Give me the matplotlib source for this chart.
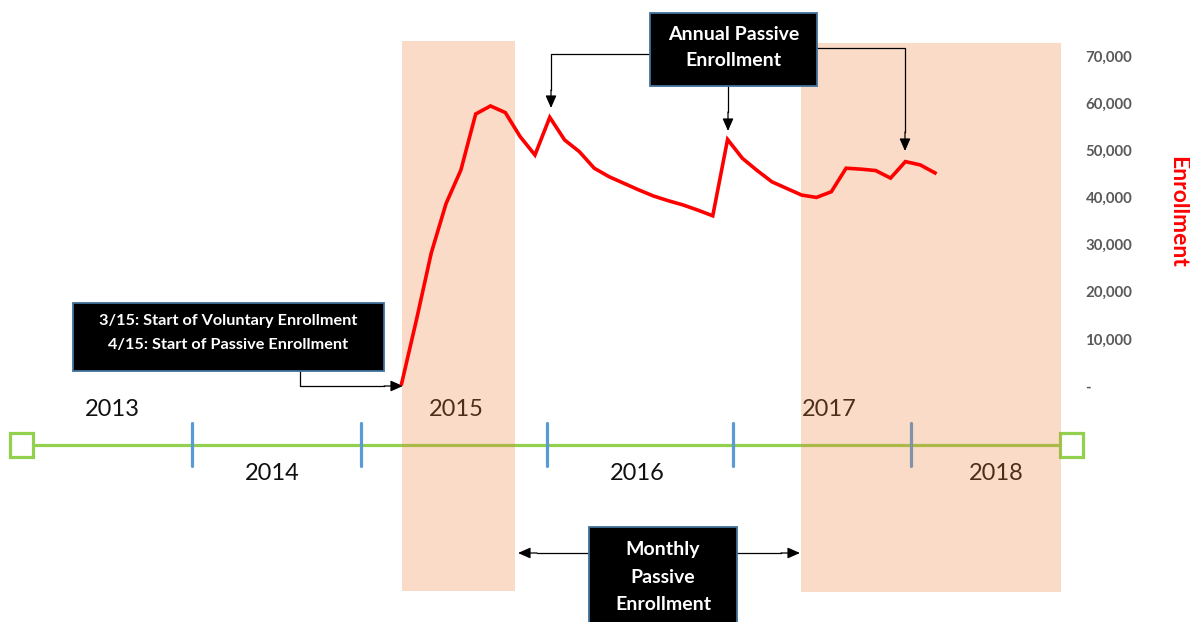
import matplotlib
matplotlib.use("Agg")
import matplotlib.pyplot as plt
from matplotlib.patches import Rectangle
from matplotlib.ticker import FuncFormatter, MultipleLocator
import pandas as pd

# monthly enrollment, March 2015 .. March 2018
months = pd.date_range("2015-03-01", periods=37, freq="MS")
enrollment = [500, 14000, 28200, 38700, 45800, 57700, 59400, 58000, 52900, 49000,
              57000, 52200, 49700, 46200, 44400, 43000, 41600, 40300, 39300, 38400,
              37300, 36100, 52300, 48300, 45700, 43300, 41900, 40500, 40000, 41200,
              46200, 46000, 45700, 44100, 47600, 46900, 45200]

years = ["2013", "2014", "2015", "2016", "2017", "2018"]

W, H = 1190, 622
GREEN = "#92D050"
BLUE = "#5B9BD5"
ORANGE = "#ED7D31"
EDGE = "#41719C"
BOX_FONT = ["Lato", "DejaVu Sans"]
YEAR_FONT = ["Lato", "DejaVu Sans"]

fig = plt.figure(figsize=(W / 100, H / 100), dpi=100)

# background layer in pixel units
ax = fig.add_axes([0, 0, 1, 1])
ax.set_xlim(0, W)
ax.set_ylim(H, 0)
ax.axis("off")

# timeline
tl_y = 445
ax.plot([33, 1059], [tl_y, tl_y], color=GREEN, lw=2.3, zorder=1, solid_capstyle="butt")
for cx in (21.5, 1071):
    ax.add_patch(Rectangle((cx - 11.5, tl_y - 12), 23, 24, facecolor="white",
                           edgecolor=GREEN, lw=2.3, zorder=1))
for bx in (192, 361, 547, 733, 911):
    ax.plot([bx, bx], [423, 466], color=BLUE, lw=2.3, zorder=1, solid_capstyle="round")

year_x = [112, 272, 456, 637, 829, 996]
for i, (yr, x) in enumerate(zip(years, year_x)):
    y = 410 if i % 2 == 0 else 474
    ax.text(x, y, yr, ha="center", va="center", fontsize=17, color="#111111",
            family=YEAR_FONT, zorder=1)

# shaded periods (drawn over the timeline)
ax.add_patch(Rectangle((402, 41), 113, 550, facecolor=ORANGE, alpha=0.27,
                       edgecolor="none", zorder=2))
ax.add_patch(Rectangle((801, 43), 260, 549, facecolor=ORANGE, alpha=0.27,
                       edgecolor="none", zorder=2))

# callout boxes
def box(x0, y0, x1, y1, lines, size, spacing):
    ax.add_patch(Rectangle((x0, y0), x1 - x0, y1 - y0, facecolor="black",
                           edgecolor=EDGE, lw=1.3, zorder=5))
    cx = (x0 + x1) / 2
    for k, t in enumerate(lines):
        ax.text(cx, spacing[0] + k * spacing[1], t, ha="center", va="center",
                color="white", fontsize=size, fontweight="bold", family=BOX_FONT, zorder=6)

box(650, 13, 817, 86, ["Annual Passive", "Enrollment"], 14, (34, 27))
box(73, 303, 384, 371, ["3/15: Start of Voluntary Enrollment",
                        "4/15: Start of Passive Enrollment"], 11.7, (321, 24))
box(589, 527, 737, 640, ["Monthly", "Passive", "Enrollment"], 14, (550, 27.5))

def arrow(path, tip):
    xs = [p[0] for p in path]
    ys = [p[1] for p in path]
    ax.plot(xs, ys, color="black", lw=0.9, zorder=4)
    ax.annotate("", xy=tip, xytext=path[-1],
                arrowprops=dict(arrowstyle="-|>,head_length=0.5,head_width=0.22",
                                color="black", lw=0.9,
                                mutation_scale=15, shrinkA=0, shrinkB=0), zorder=4)

arrow([(650, 54), (551, 54), (551, 90)], (551, 108))
arrow([(728, 86), (728, 112)], (728, 131))
arrow([(817, 48), (905, 48), (905, 132)], (905, 151))
arrow([(300, 371), (300, 386), (384, 386)], (403, 386))
arrow([(589, 553), (537, 553)], (518, 553))
arrow([(737, 553), (781, 553)], (800, 553))

ax.text(1178, 212, "Enrollment", rotation=270, ha="center", va="center",
        color="red", fontsize=16.5, fontweight="bold", family=BOX_FONT)

# enrollment line layer
x0_px, x1_px, px_per_month = 401.6, 1075, 14.817
y0_px, y1_px = 386, 56
axl = fig.add_axes([x0_px / W, (H - y0_px) / H, (x1_px - x0_px) / W, (y0_px - y1_px) / H])
axl.patch.set_alpha(0)
axl.set_zorder(3)
axl.plot(range(len(enrollment)), enrollment, color="red", lw=2.6, clip_on=False,
         solid_joinstyle="miter")
axl.set_xlim(0, (x1_px - x0_px) / px_per_month)
axl.set_ylim(0, 70000)
axl.yaxis.set_major_locator(MultipleLocator(10000))
axl.yaxis.set_major_formatter(FuncFormatter(lambda v, p: "-" if v == 0 else f"{int(v):,}"))
axl.yaxis.tick_right()
axl.tick_params(axis="y", length=0, pad=7.5, labelsize=10.8, labelcolor="#595959")
for lab in axl.get_yticklabels():
    lab.set_fontweight("bold")
    lab.set_family(BOX_FONT)
axl.set_xticks([])
for s in axl.spines.values():
    s.set_visible(False)

fig.savefig("out.png", dpi=100)
